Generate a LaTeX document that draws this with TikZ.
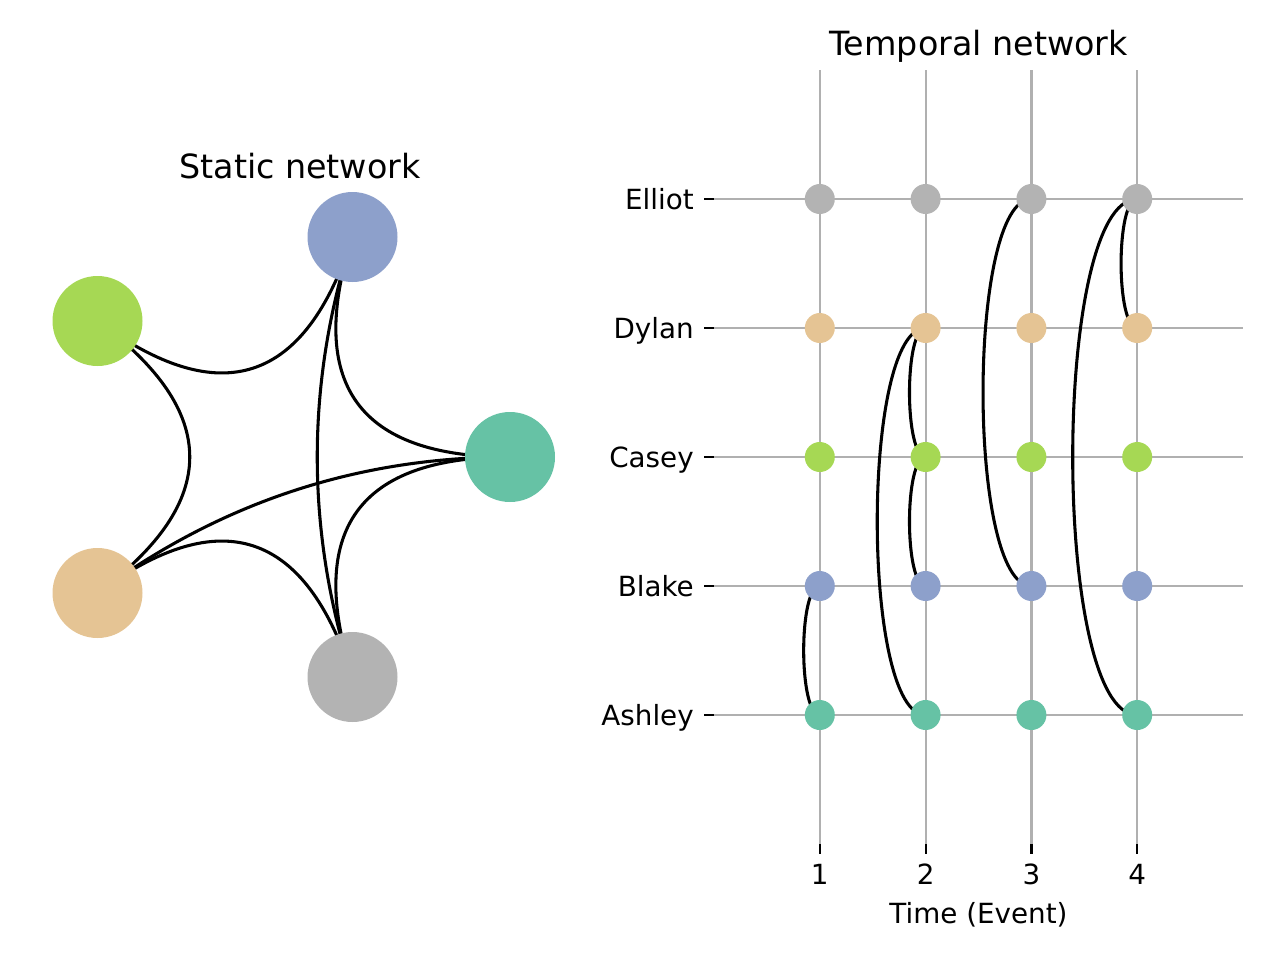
\documentclass[tikz,border=0pt]{standalone}
\usepackage{fontspec}
\setmainfont{DejaVu Sans}
\usetikzlibrary{calc,backgrounds}
\definecolor{cA}{HTML}{66C2A5}
\definecolor{cB}{HTML}{8DA0CB}
\definecolor{cC}{HTML}{A6D854}
\definecolor{cD}{HTML}{E5C494}
\definecolor{cE}{HTML}{B3B3B3}
\definecolor{gridc}{HTML}{B0B0B0}
\begin{document}
\begin{tikzpicture}[x=0.75pt,y=-0.75pt,
  bignode/.style={circle,minimum size=67.5pt,inner sep=0pt,draw=none},
  dot/.style={circle,minimum size=22.5pt,inner sep=0pt,draw=none},
  edge/.style={black,line width=2.3pt},
  gridline/.style={gridc,line width=1.67pt},
  tickmark/.style={black,line width=1.67pt},
  ticklabel/.style={font=\fontsize{20.83}{25}\selectfont,inner sep=0pt},
  titlelabel/.style={font=\fontsize{25}{30}\selectfont,inner sep=0pt}]
\useasboundingbox (0,0) rectangle (1280,960);
% ---------- static network ----------
\node[bignode,fill=cA] (sA) at (510,457) {};
\node[bignode,fill=cB] (sB) at (352.5,237) {};
\node[bignode,fill=cC] (sC) at (97.5,321) {};
\node[bignode,fill=cD] (sD) at (97.5,593) {};
\node[bignode,fill=cE] (sE) at (352.5,677) {};
\coordinate (ctr) at (282,457);
\node[titlelabel,anchor=base] (stitle) at (300,178) {Static network};
% ---------- temporal network ----------
\foreach \n/\c/\y in {A/cA/715,B/cB/586,C/cC/457,D/cD/328,E/cE/199} {
  \foreach \t in {1,2,3,4} {
    \node[dot,fill=\c] (\n\t) at ({714+105.8*\t},\y) {};
  }
  \draw[tickmark] (704,\y) -- (714,\y);
}
\node[ticklabel,anchor=base east] (lE) at (694,209) {Elliot};
\node[ticklabel,anchor=base east] (lD) at (694,338) {Dylan};
\node[ticklabel,anchor=base east] (lC) at (694,467) {Casey};
\node[ticklabel,anchor=base east] (lB) at (694,596) {Blake};
\node[ticklabel,anchor=base east] (lA) at (694,725) {Ashley};
\foreach \t in {1,2,3,4} {
  \draw[tickmark] ({714+105.8*\t},844) -- ({714+105.8*\t},854);
  \node[ticklabel,anchor=base] (x\t) at ({714+105.8*\t},884) {\t};
}
\node[ticklabel,anchor=base] (xlab) at (978.5,923) {Time (Event)};
\node[titlelabel,anchor=base] (ttitle) at (978.5,55) {Temporal network};
\begin{scope}[on background layer]
  % static edges: quadratic curves through the layout centre
  \foreach \a/\b in {sA/sB,sA/sD,sD/sC,sC/sB,sE/sB,sE/sD,sE/sA}
    \draw[edge] (\a.center) .. controls ($(\a.center)!0.6667!(ctr)$) and ($(\b.center)!0.6667!(ctr)$) .. (\b.center);
  % grid
  \foreach \t in {1,2,3,4}
    \draw[gridline] ({714+105.8*\t},70) -- ({714+105.8*\t},844);
  \foreach \y in {199,328,457,586,715}
    \draw[gridline] (714,\y) -- (1243,\y);
  % temporal edges
  \foreach \a/\b/\k in {B1/A1/21.5,D2/A2/64.5,D2/C2/21.5,C2/B2/21.5,E3/B3/64.5,E4/D4/21.5,E4/A4/86}
    \draw[edge] (\a.center) .. controls ($(\a.center)+(-\k,0)$) and ($(\b.center)+(-\k,0)$) .. (\b.center);
\end{scope}
\end{tikzpicture}
\end{document}
